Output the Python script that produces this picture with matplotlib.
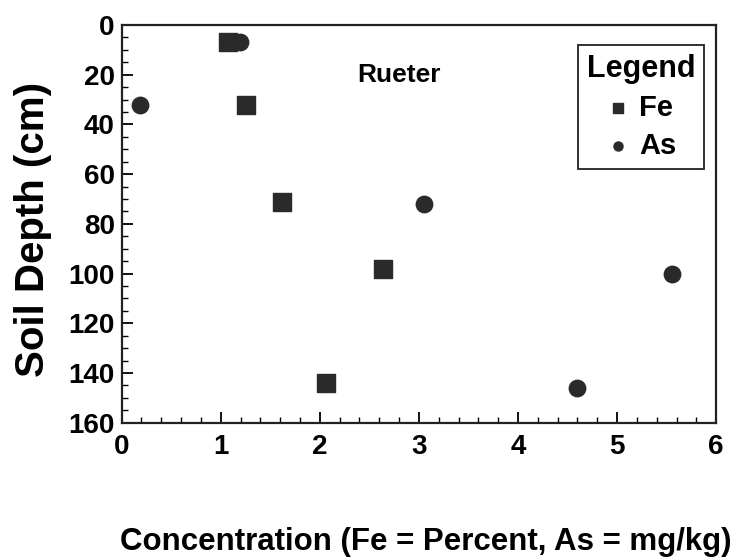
import matplotlib
matplotlib.use("Agg")
import matplotlib.pyplot as plt
from matplotlib.ticker import MultipleLocator

plt.rcParams["font.family"] = ["Liberation Sans", "DejaVu Sans"]
plt.rcParams["font.weight"] = "bold"

# Fe (percent) vs soil depth
fe_conc = [1.07, 1.25, 1.62, 2.64, 2.06]
fe_depth = [7, 32, 71, 98, 144]

# As (mg/kg) vs soil depth
as_conc = [0.18, 1.19, 3.05, 5.55, 4.6]
as_depth = [32, 7, 72, 100, 146]

fig = plt.figure(figsize=(7.33, 5.57), dpi=100)
ax = fig.add_axes([0.166, 0.241, 0.811, 0.714])

ax.scatter(fe_conc, fe_depth, marker="s", s=150, color="#2a2a2a", label="Fe", zorder=3)
ax.scatter(as_conc, as_depth, marker="o", s=140, color="#2a2a2a", label="As", zorder=3)

ax.set_xlim(0, 6)
ax.set_ylim(160, 0)
ax.xaxis.set_major_locator(MultipleLocator(1))
ax.xaxis.set_minor_locator(MultipleLocator(0.2))
ax.yaxis.set_major_locator(MultipleLocator(20))
ax.yaxis.set_minor_locator(MultipleLocator(5))
ax.tick_params(which="both", direction="in", top=False, right=False)
ax.tick_params(which="major", length=8, width=1.3, labelsize=20, pad=5)
ax.tick_params(axis="x", which="major", pad=8)
ax.tick_params(which="minor", length=4, width=1)
for lbl in ax.get_xticklabels() + ax.get_yticklabels():
    lbl.set_fontweight("bold")
for s in ax.spines.values():
    s.set_linewidth(1.6)
    s.set_color("#222222")

ax.set_ylabel("Soil Depth (cm)", fontsize=29, fontweight="bold")
ax.yaxis.set_label_coords(-0.118, 0.487)
ax.set_xlabel("Concentration (Fe = Percent, As = mg/kg)", fontsize=22.5,
              fontweight="bold")
ax.xaxis.set_label_coords(0.512, -0.262)

ax.text(2.8, 20, "Rueter", fontsize=19, fontweight="bold", ha="center", va="center")

leg = ax.legend(title="Legend", loc="upper right", bbox_to_anchor=(0.99, 0.965),
                fontsize=21, title_fontsize=22, markerscale=0.55, handletextpad=0.35,
                handlelength=0.8, fancybox=False, framealpha=1, edgecolor="#222222",
                borderpad=0.3, labelspacing=0.35, borderaxespad=0.2)
leg.get_title().set_fontweight("bold")
leg.get_frame().set_linewidth(1.3)

fig.savefig("out.png", dpi=100)
